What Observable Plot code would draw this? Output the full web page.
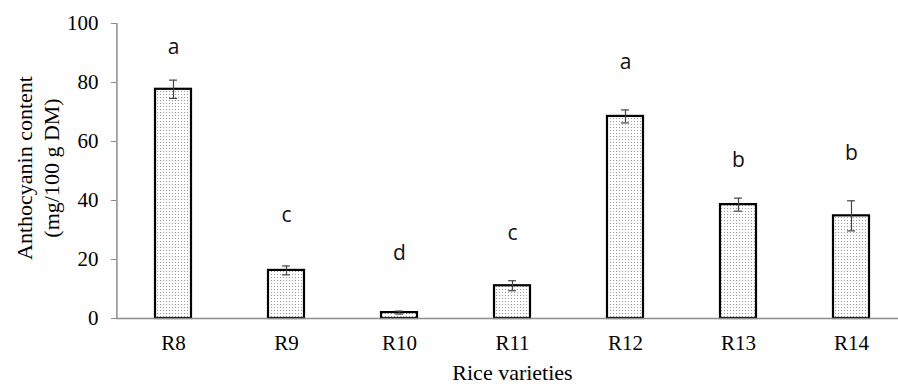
<!DOCTYPE html>
<html>
<head>
<meta charset="utf-8">
<script src="https://cdn.jsdelivr.net/npm/d3@7"></script>
<script src="https://cdn.jsdelivr.net/npm/@observablehq/plot@0.6"></script>
<style>
  html, body { margin: 0; padding: 0; background: #fff; }
</style>
</head>
<body>
<div id="chart"></div>
<script>
const varieties = ["R8", "R9", "R10", "R11", "R12", "R13", "R14"];
const means = [77.7, 16.3, 2.0, 11.1, 68.5, 38.6, 34.8];
const errors = [3.1, 1.5, 0.5, 1.7, 2.2, 2.2, 5.1];
const letters = ["a", "c", "d", "c", "a", "b", "b"];
const letterY = [92, 35, 22, 29, 87, 53.5, 56];
const yTicks = [0, 20, 40, 60, 80, 100];

const data = varieties.map((v, i) => ({
  variety: v,
  mean: means[i],
  lo: means[i] - errors[i],
  hi: means[i] + errors[i],
  letter: letters[i],
  ly: letterY[i]
}));

const serif = "'Liberation Serif', 'Times New Roman', serif";
const sans = "'Open Sans', 'Noto Sans', sans-serif";

const svg = Plot.plot({
  width: 898,
  height: 387,
  marginLeft: 116,
  marginRight: 0,
  marginTop: 23,
  marginBottom: 69,
  style: { background: "#fff", color: "#000", fontSize: "21px", fontFamily: serif },
  x: { domain: varieties, range: [116.4, 908.6], paddingInner: 0.68, paddingOuter: 0.34, align: 0.5, label: null },
  y: { domain: [0, 100], label: null },
  marks: [
    Plot.barY(data, { x: "variety", y: "mean", fill: "url(#dots)", stroke: "#000", strokeWidth: 2.2 }),
    Plot.ruleY([0], { stroke: "#8c8c8c", strokeWidth: 1.5 }),
    Plot.ruleX([varieties[0]], { x: d => d, y1: 0, y2: 100, dx: -56.6, stroke: "#8c8c8c", strokeWidth: 1.5 }),
    Plot.axisY({ ticks: yTicks, tickSize: 5, tickPadding: 13, stroke: "#8c8c8c", fill: "#000", label: null }),
    Plot.axisX({ tickSize: 0, tickPadding: 17, fill: "#000", label: null }),
    Plot.ruleX(data, { x: "variety", y1: "lo", y2: "hi", stroke: "#444", strokeWidth: 1.2 }),
    Plot.tickY(data, { x: "variety", y: "hi", stroke: "#444", strokeWidth: 1.2, insetLeft: 14, insetRight: 14 }),
    Plot.tickY(data, { x: "variety", y: "lo", stroke: "#444", strokeWidth: 1.2, insetLeft: 14, insetRight: 14 }),
    Plot.text(data, { x: "variety", y: "ly", text: "letter", fontSize: 21, fontFamily: sans, fill: "#111" }),
    Plot.text(["Anthocyanin content\n(mg/100 g DM)"], { frameAnchor: "left", textAnchor: "middle", lineAnchor: "middle", dx: -80, dy: -3, rotate: -90, fontSize: 22, fontFamily: serif, fill: "#000", lineHeight: 1.25 }),
    Plot.text(["Rice varieties"], { frameAnchor: "bottom", x: () => "R11", dy: 61, fontSize: 22, fontFamily: serif, fill: "#000" })
  ]
});

const defs = d3.select(svg).insert("defs", ":first-child");
const pat = defs.append("pattern")
  .attr("id", "dots")
  .attr("patternUnits", "userSpaceOnUse")
  .attr("width", 3)
  .attr("height", 3);
pat.append("rect").attr("width", 3).attr("height", 3).attr("fill", "#fff");
pat.append("rect").attr("x", 1).attr("y", 1).attr("width", 1).attr("height", 1).attr("fill", "#9a9a9a");

document.getElementById("chart").appendChild(svg);
</script>
</body>
</html>
